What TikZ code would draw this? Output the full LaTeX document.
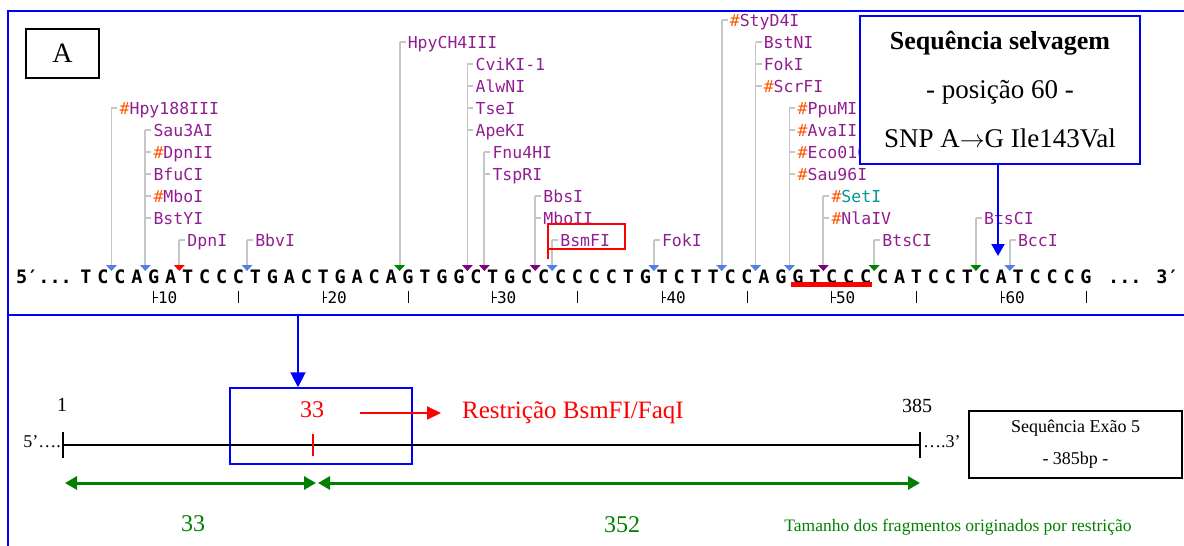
\documentclass[tikz,border=0pt]{standalone}
\usepackage{fontspec}
\setmainfont{Liberation Serif}
\newfontfamily\seqfont{DejaVu Sans Mono}
\usetikzlibrary{arrows.meta,positioning}
\definecolor{enzpurple}{RGB}{145,30,145}
\definecolor{hashred}{RGB}{255,85,0}
\definecolor{setteal}{RGB}{0,150,150}
\definecolor{cutblue}{RGB}{80,130,230}
\definecolor{cutgreen}{RGB}{0,130,0}
\definecolor{cutpurple}{RGB}{128,0,128}
\definecolor{fraggreen}{RGB}{0,128,0}
\definecolor{guidegrey}{RGB}{198,198,198}
\tikzstyle{base}=[inner sep=0pt,text height=13pt,text depth=0pt,font=\seqfont\bfseries\fontsize{18.5}{18.5}\selectfont]
\tikzstyle{enzyme}=[anchor=west,inner sep=0pt,text height=12pt,text depth=0pt,text=enzpurple,font=\seqfont\fontsize{16.5}{16.5}\selectfont]
\tikzstyle{ruler}=[anchor=west,inner sep=0pt,text height=12pt,text depth=0pt,font=\seqfont\fontsize{16}{16}\selectfont]
\tikzstyle{guide}=[draw=guidegrey,line width=1.8pt]
\tikzstyle{frame}=[draw=blue,line width=2.8pt]
\tikzstyle{note}=[inner sep=0pt,font=\fontsize{24}{24}\selectfont]
\newcommand{\hsh}{\textcolor{hashred}{\#}}

\begin{document}
\begin{tikzpicture}[x=1pt,y=-1pt]
    \useasboundingbox (0,0) rectangle (1184,546);
    \clip (0,0) rectangle (1184,546);
    % frame around the sequence map
    \draw[frame] (1190,11) -- (8,11) -- (8,560);
    \draw[frame] (8,315) -- (1190,315);
    \node[draw,line width=1.5pt,minimum width=73pt,minimum height=49pt,font=\fontsize{28}{28}\selectfont] (panelA) at (62.5,53.5) {A};

    % the bases, positions 6 to 65
    \foreach \b [count=\p from 6] in {T,C,C,A,G,A,T,C,C,C,T,G,A,C,T,G,A,C,A,
                                      G,T,G,G,C,T,G,C,C,C,C,C,C,T,G,T,C,T,T,C,C,A,G,
                                      G,T,C,C,C,C,A,T,C,C,T,C,A,T,C,C,C,G}
        \node[base] (b\p) at ({86+(\p-6)*16.95},277) {\b};
    \node[base,anchor=east] (five) at (72,277) {5′...};
    \node[base,anchor=west] (three) at (1108,277) {... 3′};
    \draw[red,line width=4.5pt] (791,284.5) -- (872,284.5);

    % ruler under the bases
    \foreach \p in {10,20,...,60} {
        \draw[line width=1pt] (b\p.center |- 0,291) -- (b\p.center |- 0,303);
        \draw[line width=1pt] (b\p.center |- 0,297) -- ++(4,0);
        \node[ruler] (tk\p) at ([xshift=4pt]b\p.center |- 0,297) {\p};
    }
    \foreach \p in {15,25,...,65}
        \draw[line width=1pt] (b\p.center |- 0,291) -- (b\p.center |- 0,303);

    % cut sites: site/base before the cut/top row/colour
    \foreach \n/\p/\top/\col in {1/7/6/cutblue, 2/9/5/cutblue, 3/11/0/red, 4/15/0/cutblue,
                                 5/24/9/cutgreen, 6/28/8/cutpurple, 7/29/4/cutpurple, 8/32/2/cutpurple,
                                 9/33/0/cutblue, 10/39/0/cutblue, 11/43/10/cutblue, 12/45/9/cutblue,
                                 13/47/6/cutblue, 14/49/2/cutpurple, 15/52/0/cutgreen, 16/58/1/cutgreen,
                                 17/60/0/cutblue} {
        \coordinate (cut\n) at ({94.5+(\p-6)*16.95},265);
        \coordinate (top\n) at ({94.5+(\p-6)*16.95},{240-22*\top});
        \path[guide] (top\n) -- (cut\n);
        \fill[\col] (cut\n) ++(-5.5,0) -- ++(11,0) -- ++(-5.5,6) -- cycle;
    }

    % enzyme names: site/row/name
    \foreach \n/\r/\t [count=\i] in {1/6/{\hsh Hpy188III}, 2/5/Sau3AI, 2/4/{\hsh DpnII}, 2/3/BfuCI,
                                     2/2/{\hsh MboI}, 2/1/BstYI, 3/0/DpnI, 4/0/BbvI, 5/9/HpyCH4III,
                                     6/8/CviKI-1, 6/7/AlwNI, 6/6/TseI, 6/5/ApeKI, 7/4/Fnu4HI, 7/3/TspRI,
                                     8/2/BbsI, 8/1/MboII, 9/0/BsmFI, 10/0/FokI, 11/10/{\hsh StyD4I},
                                     12/9/BstNI, 12/8/FokI, 12/7/{\hsh ScrFI}, 13/6/{\hsh PpuMI},
                                     13/5/{\hsh AvaII}, 13/4/{\hsh Eco0109I}, 13/3/{\hsh Sau96I},
                                     14/2/{\hsh\textcolor{setteal}{SetI}}, 14/1/{\hsh NlaIV},
                                     15/0/BtsCI, 16/1/BtsCI, 17/0/BccI} {
        \path (cut\n) ++(0,{-25-22*\r}) coordinate (stub\i);
        \node[enzyme] (lab\i) at ([xshift=8pt]stub\i) {\t};
        \path[guide] (stub\i) -- ([xshift=-2pt]lab\i.west);
    }
    \draw[red,line width=1.5pt] (548,259) -- (548,224) -- (625,224) -- (625,249) -- (548,249);

    % wild type box and SNP pointer
    \node[draw=blue,line width=2pt,fill=white,minimum width=280pt,minimum height=148pt,
          align=center,font=\fontsize{27}{49}\selectfont] (wild) at (1000,90)
          {{\fontsize{26}{49}\selectfont\bfseries Sequência selvagem}\\- posição 60 -\\SNP A$\rightarrow$G Ile143Val};
    \coordinate (snp) at (998,256);
    \draw[blue,line width=2pt,-{Triangle[length=12pt,width=13pt]}] (wild.south -| snp) -- (snp);

    % exon 5 with the BsmFI site
    \coordinate (zoomsrc) at (298,316);
    \node[draw=blue,line width=1.5pt,minimum width=182pt,minimum height=76pt] (cutbox) at (321,426) {};
    \draw[blue,line width=2pt,-{Triangle[length=15pt,width=15pt]}] (zoomsrc) -- (cutbox.north -| zoomsrc);
    \coordinate (exstart) at (63,445);
    \coordinate (exend) at (920,445);
    \draw[line width=1.2pt] (exstart) -- (exend);
    \draw[line width=1.5pt] ([yshift=-13pt]exstart) -- ([yshift=13pt]exstart);
    \draw[line width=1.5pt] ([yshift=-13pt]exend) -- ([yshift=13pt]exend);
    \node[note,font=\fontsize{20}{20}\selectfont] (one) at (62,405) {1};
    \node[note,font=\fontsize{20}{20}\selectfont] (last) at (917,406) {385};
    \node[note,anchor=east,font=\fontsize{18}{18}\selectfont] (fivep) at (61,442) {5’….};
    \node[note,anchor=west,font=\fontsize{18}{18}\selectfont] (threep) at (923,442) {….3’};
    \node[note,text=red] (cutpos) at (312,410) {33};
    \draw[red,line width=1.5pt] (313,434) -- (313,456);
    \node[note,anchor=west,text=red,font=\fontsize{25}{25}\selectfont] (enzname) at (462,413) {Restrição BsmFI/FaqI};
    \coordinate (arrstart) at (360,413);
    \draw[red,line width=2pt,-{Triangle[length=14pt,width=13pt]}] (arrstart) -- (enzname.west -| 441,0);

    % fragment sizes
    \coordinate (fragcut) at (317,483);
    \draw[fraggreen,line width=3pt,{Triangle[length=12pt,width=13pt]}-{Triangle[length=12pt,width=13pt]}]
        (exstart |- fragcut) ++(2,0) -- ([xshift=-1pt]fragcut);
    \draw[fraggreen,line width=3pt,{Triangle[length=12pt,width=13pt]}-{Triangle[length=12pt,width=13pt]}]
        ([xshift=1pt]fragcut) -- (exend |- fragcut);
    \node[note,text=fraggreen] (frag1) at (193,524) {33};
    \node[note,text=fraggreen] (frag2) at (622,525) {352};
    \node[note,text=fraggreen,font=\fontsize{17.5}{17.5}\selectfont] (fragnote) at (958,527) {Tamanho dos fragmentos originados por restrição};

    \node[draw,line width=1.5pt,minimum width=213pt,minimum height=67pt,align=center,
          font=\fontsize{18}{32}\selectfont] (exon) at (1075.5,444.5) {Sequência Exão 5\\- 385bp -};
\end{tikzpicture}
\end{document}
